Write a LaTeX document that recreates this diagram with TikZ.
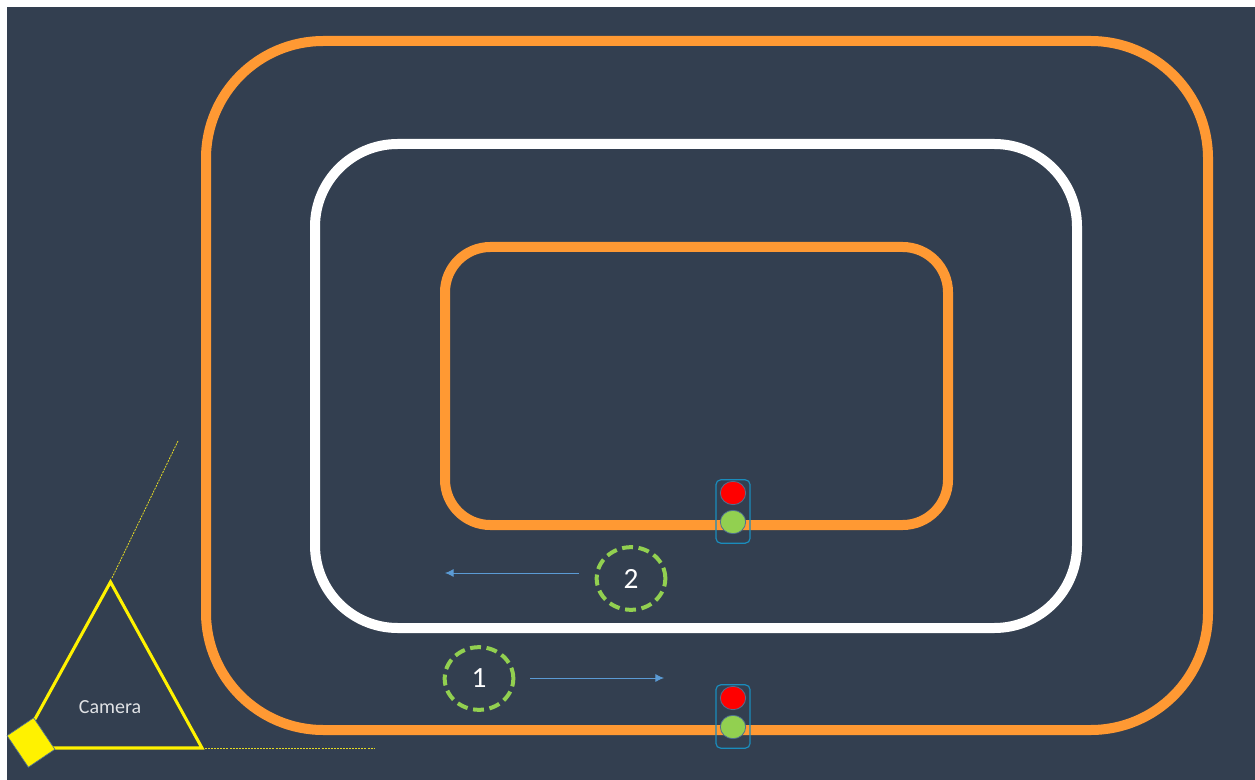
\documentclass[tikz,border=0pt]{standalone}
\usepackage{fontspec}
\setmainfont{Carlito}
\usetikzlibrary{arrows.meta,shapes.geometric}
\definecolor{bgc}{HTML}{333F50}
\definecolor{track}{HTML}{FF9933}
\definecolor{lightgreen}{HTML}{92D050}
\definecolor{arrowblue}{HTML}{5B9BD5}
\definecolor{boxblue}{HTML}{1A8CBC}
\definecolor{lampedge}{HTML}{4F6F8F}
\tikzset{
  x=0.75pt,y=-0.75pt,
  trackline/.style={draw=#1,line width=7.5pt,fill=none},
  lane/.style={draw=lightgreen,line width=3pt,dash pattern=on 8.2pt off 4.2pt,ellipse,minimum width=51.5pt,minimum height=47pt,inner sep=0pt,outer sep=0pt,text=white,font=\fontsize{22}{24}\selectfont},
  flow/.style={draw=arrowblue,line width=0.65pt,-{Latex[length=6.5pt,width=6pt]}},
  fov/.style={draw=yellow!85!bgc,line width=0.6pt,dash pattern=on 1.5pt off 0.8pt},
  lightbox/.style={draw=boxblue,line width=0.9pt,rounded corners=3.5pt,minimum width=25.5pt,minimum height=47.5pt,inner sep=0pt,outer sep=0pt},
  lamp/.style={ellipse,draw=lampedge,line width=0.6pt,fill=#1,minimum width=19pt,minimum height=17.5pt,inner sep=0pt,outer sep=0pt},
}
\begin{document}
\begin{tikzpicture}
\useasboundingbox (0,0) rectangle (1255,780);
\fill[white] (0,0) rectangle (1255,780);
\fill[bgc] (7,7) rectangle (1255,780);
% tracks
\draw[trackline=track,rounded corners=88pt] (206,41) rectangle (1208,730);
\draw[trackline=white,rounded corners=62pt] (315,144) rectangle (1077,628);
\draw[trackline=track,rounded corners=34pt] (445,247) rectangle (948,525);
% camera
\coordinate (apex) at (110.5,582);
\coordinate (right) at (202,748);
\coordinate (left) at (19,748);
\draw[yellow,line width=2.3pt,line join=miter] (left) -- (apex) -- (right) -- cycle;
\node[draw=lampedge,line width=0.5pt,fill=yellow,minimum width=24pt,minimum height=28.5pt,inner sep=0pt,rotate=34] (cam) at (31,742.5) {};
\node[text=white!85!bgc,font=\fontsize{15}{18}\selectfont] (camlabel) at (110,707) {Camera};
\coordinate (fovA) at (178,441);
\coordinate (fovAs) at (112,578);
\coordinate (fovB) at (374,748);
\coordinate (fovBs) at (205,748);
\draw[fov] (fovAs) -- (fovA);
\draw[fov] (fovBs) -- (fovB);
% lanes
\node[lane] (two) at (631,578.5) {2};
\node[lane] (one) at (479,678.5) {1};
\coordinate (a2s) at (579,573);
\coordinate (a2e) at (445,573);
\coordinate (a1s) at (530,678);
\coordinate (a1e) at (664,678);
\draw[flow] (a2s) -- (a2e);
\draw[flow] (a1s) -- (a1e);
% lights
\node[lamp=red] (r1) at (733,493) {};
\node[lamp=lightgreen] (g1) at (733,522) {};
\node[lightbox] (b1) at (733,511.5) {};
\node[lamp=red] (r2) at (733,698) {};
\node[lamp=lightgreen] (g2) at (733,727) {};
\node[lightbox] (b2) at (733,716.5) {};
\end{tikzpicture}
\end{document}
